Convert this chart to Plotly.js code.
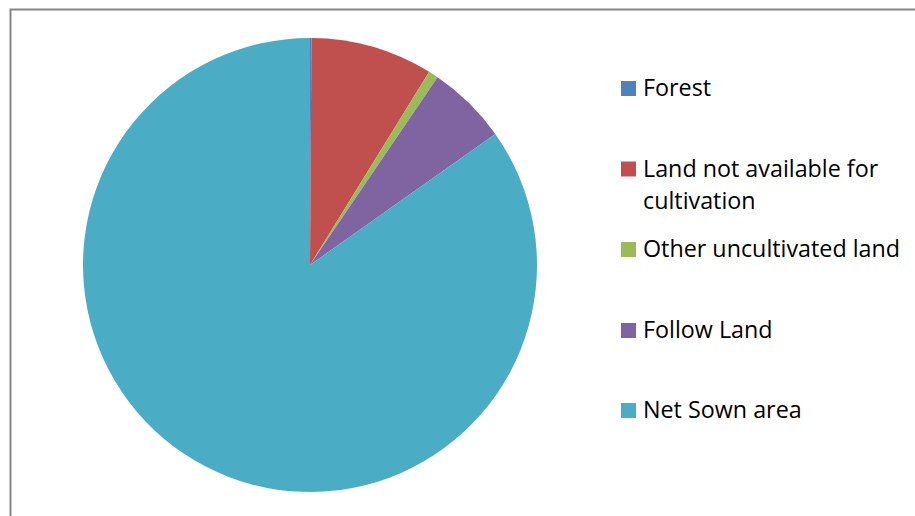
<!DOCTYPE html>
<html>
<head>
<meta charset="utf-8">
<script src="https://cdn.plot.ly/plotly-3.0.1.min.js"></script>
<style>html,body{margin:0;padding:0;background:#fff;}#chart{width:915px;height:516px;}</style>
</head>
<body>
<div id="chart"></div>
<script>
// Data
var categories = ["Forest", "Land not available for<br>cultivation", "Other uncultivated land", "Follow Land", "Net Sown area"];
var values = [0.1, 8.7, 0.7, 5.7, 84.8];
var colors = ["#4F81BD", "#C0504D", "#9BBB59", "#8064A2", "#4BACC6"];

var W = 915, H = 516;
function px(x){ return x / W; }
function py(y){ return 1 - y / H; }

var trace = {
  type: "pie",
  labels: categories,
  values: values,
  sort: false,
  direction: "clockwise",
  rotation: 0,
  textinfo: "none",
  hoverinfo: "label+value+percent",
  marker: { colors: colors, line: { width: 0 } },
  domain: { x: [px(83), px(537)], y: [py(492), py(38)] },
  showlegend: false
};

// Manual legend (positions in pixels)
var itemCenters = [88.5, 169, 249.5, 330.5, 410.5];
var lineGap = 32;
var shapes = [{
  type: "rect", xref: "paper", yref: "paper",
  x0: px(10.5), x1: px(930), y0: py(530), y1: py(9.5),
  line: { color: "#868686", width: 2 }, fillcolor: "rgba(0,0,0,0)"
}];
var annotations = [];
categories.forEach(function(cat, i){
  var c = itemCenters[i];
  shapes.push({
    type: "rect", xref: "paper", yref: "paper",
    x0: px(621), x1: px(636), y0: py(c + 7.5), y1: py(c - 7.5),
    line: { width: 0 }, fillcolor: colors[i]
  });
  cat.split("<br>").forEach(function(line, j){
    annotations.push({
      xref: "paper", yref: "paper",
      x: px(641), y: py(c - 1.5 + j * lineGap),
      xanchor: "left", yanchor: "middle",
      text: line, showarrow: false,
      font: { family: "Open Sans", size: 23.3, color: "#000" }
    });
  });
});

var layout = {
  width: W, height: H,
  margin: { l: 0, r: 0, t: 0, b: 0 },
  paper_bgcolor: "#fff",
  plot_bgcolor: "#fff",
  showlegend: false,
  shapes: shapes,
  annotations: annotations
};

Plotly.newPlot("chart", [trace], layout, { displayModeBar: false, staticPlot: true });
</script>
</body>
</html>
